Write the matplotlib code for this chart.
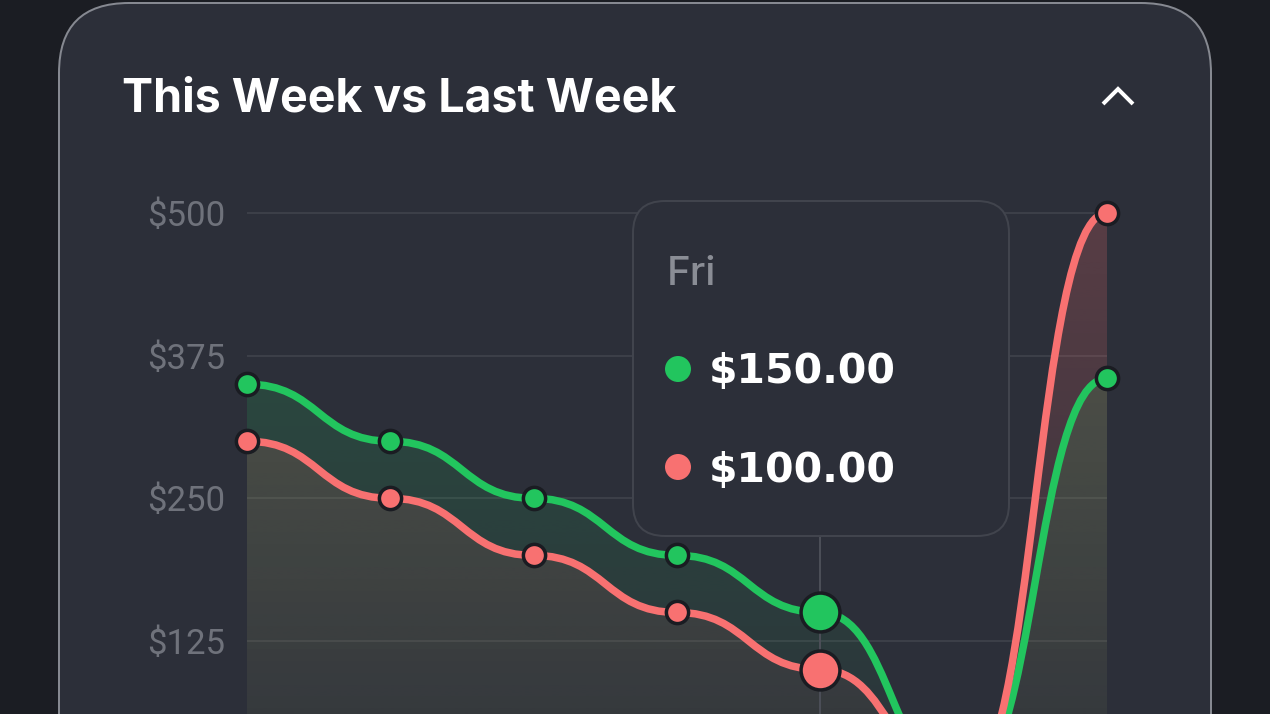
import numpy as np
import matplotlib
matplotlib.use("Agg")
import matplotlib.pyplot as plt
from matplotlib.path import Path
from matplotlib.patches import PathPatch, FancyBboxPatch, Circle
from matplotlib.transforms import IdentityTransform
from matplotlib.lines import Line2D
from matplotlib.colors import to_rgb

# ---------------- data ----------------
days = ["Mon", "Tue", "Wed", "Thu", "Fri", "Sat", "Sun"]
this_week = [350, 300, 250, 200, 150, 0, 355]
last_week = [300, 250, 200, 150, 100, 0, 500]
y_ticks = [125, 250, 375, 500]
y_tick_labels = ["$125", "$250", "$375", "$500"]
title = "This Week vs Last Week"
active_day = "Fri"

# ---------------- style ----------------
W, H = 1270, 714
PX = 0.72  # points per pixel at dpi 100
BG = "#1b1d23"
CARD = "#2c2f39"
CARD_EDGE = "#868991"
GRID = "#3c3f48"
TICK = "#6f727b"
GREEN = "#22c55e"
RED = "#f87171"
DARK = "#1a1c22"
TIP_EDGE = "#41444d"

fig = plt.figure(figsize=(W / 100, H / 100), dpi=100)
fig.patch.set_facecolor(BG)
ID = IdentityTransform()

# card
card = FancyBboxPatch((59, -300), 1152, (H - 3) + 300,
                      boxstyle="round,pad=0,rounding_size=70",
                      transform=ID, fc=CARD, ec=CARD_EDGE, lw=2 * PX, zorder=-10)
fig.add_artist(card)

# title + chevron
fig.text(122, H - 111, title, transform=ID, color="white", fontsize=33.5,
         fontfamily="Inter", fontweight="bold", va="baseline", ha="left")
fig.add_artist(Line2D([1103, 1118, 1133], [H - 104, H - 89, H - 104], transform=ID,
                      color="white", lw=4 * PX, solid_joinstyle="miter",
                      solid_capstyle="butt"))

# ---------------- axes ----------------
px_per_unit = (641 - 213) / 375.0
zero_y = 213 + 500 * px_per_unit
ax = fig.add_axes([247 / W, 0, 860 / W, 1])
ax.set_facecolor("none")
xs = np.arange(len(days))
ax.set_xlim(0, len(days) - 1)
ax.set_ylim((zero_y - H) / px_per_unit, zero_y / px_per_unit)
ax.set_autoscale_on(False)
for s in ax.spines.values():
    s.set_visible(False)
ax.set_xticks([])
ax.set_yticks(y_ticks)
ax.set_yticklabels(y_tick_labels)
ax.tick_params(axis="y", length=0, pad=22 * PX, labelsize=25, labelcolor=TICK)
for lab in ax.get_yticklabels():
    lab.set_fontfamily("Roboto")
ax.yaxis.grid(True, color=GRID, lw=2 * PX, zorder=0)
ax.set_axisbelow(True)


def bump(xv, yv):
    verts = [(xv[0], yv[0])]
    codes = [Path.MOVETO]
    for i in range(len(xv) - 1):
        xm = (xv[i] + xv[i + 1]) / 2
        verts += [(xm, yv[i]), (xm, yv[i + 1]), (xv[i + 1], yv[i + 1])]
        codes += [Path.CURVE4] * 3
    return verts, codes


def draw_series(vals, color, z):
    verts, codes = bump(xs, vals)
    # gradient fill
    fverts = verts + [(xs[-1], 0), (xs[0], 0), (xs[0], vals[0])]
    fcodes = codes + [Path.LINETO, Path.LINETO, Path.CLOSEPOLY]
    fpatch = PathPatch(Path(fverts, fcodes), fc="none", ec="none", transform=ax.transData)
    ax.add_patch(fpatch)
    grad = np.zeros((256, 1, 4))
    grad[..., :3] = to_rgb(color)
    grad[..., 3] = np.linspace(0.03, 0.22, 256)[:, None]
    im = ax.imshow(grad, extent=[xs[0], xs[-1], 0, max(y_ticks)], origin="lower",
                   aspect="auto", interpolation="bilinear", zorder=1)
    im.set_clip_path(fpatch)
    # line
    ax.add_patch(PathPatch(Path(verts, codes), fc="none", ec=color, lw=7.5 * PX,
                           zorder=z, capstyle="round", joinstyle="round"))
    return verts


ai = days.index(active_day)
# crosshair
ax.vlines(xs[ai], ax.get_ylim()[0], (zero_y - 537) / px_per_unit, color="#4b4e57",
          lw=2 * PX, zorder=2)

draw_series(this_week, GREEN, 3)
draw_series(last_week, RED, 3.1)

for vals, color in [(this_week, GREEN), (last_week, RED)]:
    for i, v in enumerate(vals):
        big = i == ai
        ax.plot(xs[i], v, "o", ms=(28 if big else 16), mfc=color, mec=DARK,
                mew=3.5 * PX, zorder=5, clip_on=False)

# ---------------- tooltip ----------------
tip = FancyBboxPatch((633, H - 536), 376, 335,
                     boxstyle="round,pad=0,rounding_size=32",
                     transform=ID, fc=CARD, ec=TIP_EDGE, lw=2 * PX, zorder=20)
fig.add_artist(tip)
fig.text(667, H - 285, active_day, transform=ID, color="#8a8d95", fontsize=29,
         fontfamily="Inter", fontweight="medium", va="baseline", ha="left", zorder=21)
for k, (vals, color) in enumerate([(this_week, GREEN), (last_week, RED)]):
    cy = [369, 467][k]
    fig.add_artist(Circle((678, H - cy), 13, transform=ID, fc=color, ec="none", zorder=21))
    fig.text(709, H - [383, 482][k], f"${vals[ai]:.2f}", transform=ID, color="white",
             fontsize=29.5, fontfamily="DejaVu Sans", fontweight="bold", va="baseline",
             ha="left", zorder=21)

fig.savefig("out.png", dpi=100, facecolor=BG)
